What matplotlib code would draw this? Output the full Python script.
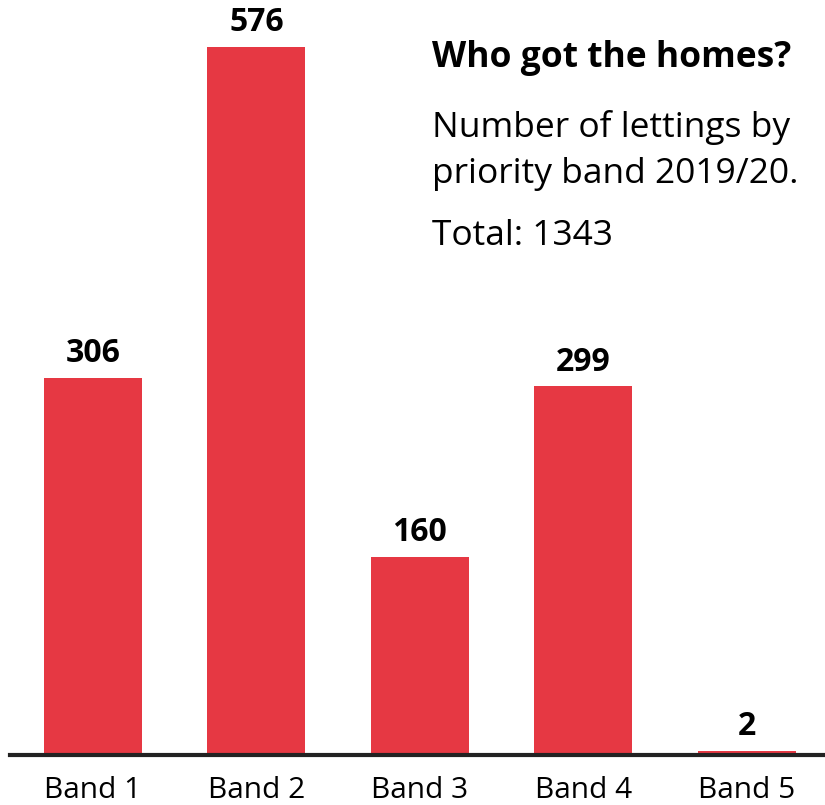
import matplotlib.pyplot as plt

bands = ["Band 1", "Band 2", "Band 3", "Band 4", "Band 5"]
lettings = [306, 576, 160, 299, 2]
total = 1343

plt.rcParams['font.family'] = ['Open Sans', 'DejaVu Sans']

fig = plt.figure(figsize=(8.25, 8.05), dpi=100)
ax = fig.add_axes([0.0, 0.062, 1.0, 0.938])

x = range(len(bands))
ax.bar(x, lettings, width=0.6, color='#e63843', zorder=2)

for xi, v in zip(x, lettings):
    ax.text(xi, v + 6, str(v), ha='center', va='bottom',
            fontsize=23, fontweight='bold', color='black')

ax.set_xlim(-0.57, 4.48)
ax.set_ylim(-1.7, 614)
ax.set_xticks(list(x))
ax.set_xticklabels(bands, fontsize=21.5)
ax.tick_params(axis='x', length=0, pad=15)
ax.set_yticks([])
for s in ['top', 'right', 'left']:
    ax.spines[s].set_visible(False)
ax.spines['bottom'].set_linewidth(3)
ax.spines['bottom'].set_color('#222222')
ax.spines['bottom'].set_bounds(-0.51, 4.48)

# title block, one text per line (baselines)
fig.text(0.524, 0.9168, "Who got the homes?", fontsize=25.5, fontweight='bold',
         ha='left', va='baseline')
fig.text(0.524, 0.8298, "Number of lettings by", fontsize=25.5,
         ha='left', va='baseline')
fig.text(0.524, 0.7727, "priority band 2019/20.", fontsize=25.5,
         ha='left', va='baseline')
fig.text(0.524, 0.6957, f"Total: {total}", fontsize=25.5,
         ha='left', va='baseline')

fig.savefig('out.png', dpi=100)
